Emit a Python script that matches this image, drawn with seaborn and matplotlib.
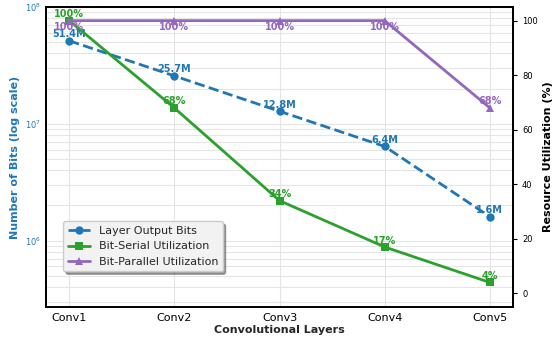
import numpy as np
import pandas as pd
import matplotlib
matplotlib.use("Agg")
import matplotlib.pyplot as plt
import seaborn as sns

# data
layers = ["Conv1", "Conv2", "Conv3", "Conv4", "Conv5"]
output_bits = [51.4e6, 25.7e6, 12.8e6, 6.4e6, 1.6e6]
bits_labels = ["51.4M", "25.7M", "12.8M", "6.4M", "1.6M"]
serial_util = [100, 68, 34, 17, 4]
parallel_util = [100, 100, 100, 100, 68]

blue = "#1f77b4"
green = "#2ca02c"
purple = "#9467bd"

sns.set_style("whitegrid")
plt.rcParams["font.family"] = ["DejaVu Sans"]

df = pd.DataFrame({"Layer": layers, "Bits": output_bits,
                   "Serial": serial_util, "Parallel": parallel_util})

fig, ax1 = plt.subplots(figsize=(5.54, 3.39), dpi=100)
ax2 = ax1.twinx()

sns.lineplot(data=df, x="Layer", y="Bits", ax=ax1, color=blue, marker="o",
             markersize=6, linewidth=2, linestyle="--", markeredgewidth=0,
             label="Layer Output Bits", legend=False)
sns.lineplot(data=df, x="Layer", y="Serial", ax=ax2, color=green, marker="s",
             markersize=6, linewidth=2, markeredgewidth=0,
             label="Bit-Serial Utilization", legend=False)
sns.lineplot(data=df, x="Layer", y="Parallel", ax=ax2, color=purple, marker="^",
             markersize=6, linewidth=2, markeredgewidth=0,
             label="Bit-Parallel Utilization", legend=False)

ax1.set_yscale("log")
ax1.set_ylim(2.7e5, 1e8)
ax2.set_ylim(-5, 105)
ax1.set_xlim(-0.22, 4.22)

# annotations
for i, (v, lab) in enumerate(zip(output_bits, bits_labels)):
    ax1.annotate(lab, (i, v), textcoords="offset points", xytext=(0, 2.5),
                 ha="center", fontsize=7, fontweight="bold", color=blue)
for i, v in enumerate(serial_util):
    ax2.annotate(f"{v}%", (i, v), textcoords="offset points", xytext=(0, 2.5),
                 ha="center", fontsize=7, fontweight="bold", color=green)
for i, v in enumerate(parallel_util):
    dy = -7 if v == 100 else 2.5
    ax2.annotate(f"{v}%", (i, v), textcoords="offset points", xytext=(0, dy),
                 ha="center", fontsize=7, fontweight="bold", color=purple)

ax1.set_xlabel("Convolutional Layers", fontsize=8, fontweight="bold", labelpad=1)
ax1.set_ylabel("Number of Bits (log scale)", fontsize=8, fontweight="bold", color=blue)
ax2.set_ylabel("Resource Utilization (%)", fontsize=8, fontweight="bold", color="black")

ax1.tick_params(axis="y", labelsize=6, colors=blue, which="both", length=0)
ax1.tick_params(axis="x", labelsize=8, length=3, pad=1.5, colors="black")
ax2.tick_params(axis="y", labelsize=6, length=3, colors="black")

ax1.grid(True, which="both", axis="y", color="#e5e5e5", linewidth=0.8)
ax1.grid(True, axis="x", color="#e5e5e5", linewidth=0.8)
ax2.grid(False)

for ax in (ax1, ax2):
    for s in ax.spines.values():
        s.set_color("black")
        s.set_linewidth(1.3)

h1, l1 = ax1.get_legend_handles_labels()
h2, l2 = ax2.get_legend_handles_labels()
leg = ax2.legend(h1 + h2, l1 + l2, loc="lower left", bbox_to_anchor=(0.025, 0.1),
                 fontsize=8, frameon=True, shadow=True, facecolor="#f2f2f2",
                 edgecolor="#cccccc")

fig.subplots_adjust(left=46/554, right=513/554, top=1-7/339, bottom=1-307/339)
plt.savefig("out.png", dpi=100)
